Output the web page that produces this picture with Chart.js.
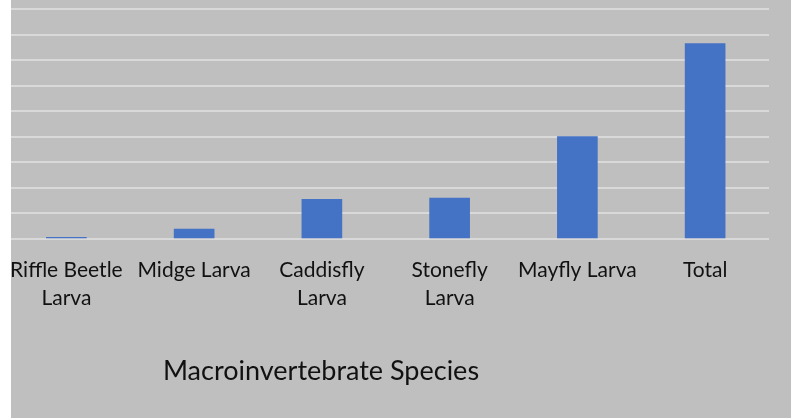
<!DOCTYPE html>
<html>
<head>
<meta charset="utf-8">
<script src="https://cdn.jsdelivr.net/npm/chart.js@4"></script>
<style>
  html, body { margin: 0; padding: 0; background: #fff; }
  #wrap { width: 791px; height: 419px; }
</style>
</head>
<body>
<div id="wrap"><canvas id="chart" width="791" height="419"></canvas></div>
<script>
// Macroinvertebrate counts (y-axis labels are cropped off in the source, scale read as 10 per gridline)
const categories = [['Riffle Beetle', 'Larva'], 'Midge Larva', ['Caddisfly', 'Larva'], ['Stonefly', 'Larva'], 'Mayfly Larva', 'Total'];
const counts = [0.7, 3.9, 15.5, 16.0, 40.1, 76.5];
const xTitle = 'Macroinvertebrate Species';

const FONT = 'Lato, "Open Sans", sans-serif';

const frame = {
  id: 'frame',
  beforeDraw(chart) {
    const ctx = chart.ctx;
    ctx.save();
    ctx.fillStyle = '#fff';
    ctx.fillRect(0, 0, chart.width, chart.height);
    ctx.fillStyle = '#bfbfbf';
    ctx.fillRect(11, 0, chart.width - 11, 418);
    ctx.restore();
  },
  afterDraw(chart) {
    const ctx = chart.ctx;
    ctx.save();
    // cropped-out left margin of the original screenshot
    ctx.fillStyle = '#fff';
    ctx.fillRect(0, 0, 11, chart.height);
    ctx.fillStyle = '#111';
    ctx.font = '27px ' + FONT;
    ctx.textAlign = 'center';
    ctx.textBaseline = 'alphabetic';
    ctx.fillText(xTitle, 321, 380);
    ctx.restore();
  }
};

new Chart(document.getElementById('chart'), {
  type: 'bar',
  data: {
    labels: categories,
    datasets: [{ data: counts, backgroundColor: '#4472c4', borderWidth: 0, barThickness: 40 }]
  },
  options: {
    responsive: false,
    animation: false,
    layout: { padding: { left: 1, right: 22, top: 9, bottom: 0 } },
    plugins: { legend: { display: false }, tooltip: { enabled: false } },
    scales: {
      x: {
        grid: { display: false },
        border: { display: false },
        ticks: { color: '#111', font: { family: FONT, size: 21, lineHeight: 1.3 }, maxRotation: 0, autoSkip: false, padding: 10 },
        afterFit(s) { s.height = 180; }
      },
      y: {
        min: 0, max: 90,
        ticks: { display: false, stepSize: 10 },
        border: { display: false },
        grid: { color: '#d9d9d9', lineWidth: 2, drawTicks: false },
        afterFit(s) { s.width = 0; }
      }
    }
  },
  plugins: [frame]
});
</script>
</body>
</html>
